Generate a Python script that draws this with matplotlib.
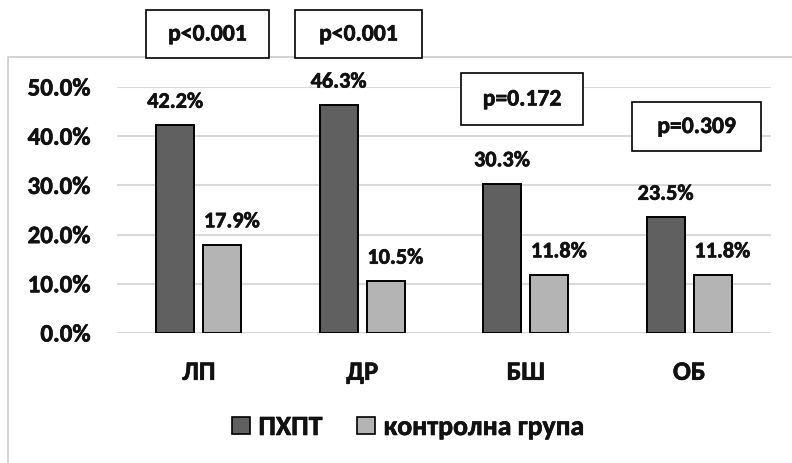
import matplotlib
matplotlib.use("Agg")
import matplotlib.pyplot as plt
import matplotlib.patheffects as pe
from matplotlib.patches import Rectangle, Patch
from matplotlib.lines import Line2D
from matplotlib.ticker import PercentFormatter
import numpy as np

# data
categories = ["ЛП", "ДР", "БШ", "ОБ"]
series_names = ["ПХПТ", "контролна група"]
phpt = [42.2, 46.3, 30.3, 23.5]
control = [17.9, 10.5, 11.8, 11.8]
p_values = ["p<0.001", "p<0.001", "p=0.172", "p=0.309"]
y_ticks = [0, 10, 20, 30, 40, 50]

plt.rcParams["font.family"] = ["Carlito", "DejaVu Sans"]
plt.rcParams["font.weight"] = "bold"
plt.rcParams["text.color"] = "#111111"

# slightly heavier glyph strokes
heavy = [pe.withStroke(linewidth=0.45, foreground="#111111")]

W, H = 792, 464
fig = plt.figure(figsize=(W / 100, H / 100), dpi=100)

def px(x0, y0):
    return x0 / W, 1 - y0 / H

# outer chart frame (runs off the right and bottom edges)
fig.add_artist(Line2D([8 / W, 8 / W, 1.0], [0.0, 1 - 58 / H, 1 - 58 / H],
                      transform=fig.transFigure, color="#d0d0d0", lw=1.3))

left, right, top, bottom = 117, 771, 88, 334
ax = fig.add_axes([left / W, 1 - bottom / H, (right - left) / W, (bottom - top) / H])

x = np.arange(len(categories))
bw = 0.232
off = 0.144
dark, light = "#606060", "#b4b4b4"
ax.bar(x - off, phpt, bw, color=dark, edgecolor="black", linewidth=1.4, zorder=3)
ax.bar(x + off, control, bw, color=light, edgecolor="black", linewidth=1.4, zorder=3)

ax.set_xlim(-0.5, len(categories) - 0.5)
ax.set_ylim(0, 50)
ax.set_yticks(y_ticks)
ax.yaxis.set_major_formatter(PercentFormatter(decimals=1))
ax.grid(axis="y", color="#d9d9d9", lw=1.5, zorder=0)
for s in ax.spines.values():
    s.set_visible(False)
ax.tick_params(axis="y", length=0, pad=19, labelsize=18, labelcolor="#111111")
ax.set_xticks(x)
ax.set_xticklabels(categories)
ax.tick_params(axis="x", length=0, pad=20, labelsize=19, labelcolor="#111111")
for t in ax.get_xticklabels() + ax.get_yticklabels():
    t.set_path_effects(heavy)

# value labels above bars
for i in range(len(categories)):
    ax.annotate(f"{phpt[i]:.1f}%", (x[i] - off, phpt[i]), xytext=(0, 17),
                textcoords="offset points", ha="center", va="center",
                fontsize=16, fontweight="bold", annotation_clip=False,
                path_effects=heavy)
    ax.annotate(f"{control[i]:.1f}%", (x[i] + off, control[i]), xytext=(7, 17),
                textcoords="offset points", ha="center", va="center",
                fontsize=16, fontweight="bold", annotation_clip=False,
                path_effects=heavy)

# p-value boxes
boxes = [(146, 11, 269, 59), (295, 11, 422, 59), (461, 74, 583, 126), (632, 103, 761, 152)]
for (x0, y0, x1, y1), label in zip(boxes, p_values):
    fx0, fy1 = px(x0, y1)
    fig.add_artist(Rectangle((fx0, fy1), (x1 - x0) / W, (y1 - y0) / H,
                             transform=fig.transFigure, facecolor="white",
                             edgecolor="black", lw=1.2, zorder=5))
    cx, cy = px((x0 + x1) / 2, (y0 + y1) / 2)
    fig.text(cx, cy, label, ha="center", va="center", fontsize=17,
             fontweight="bold", zorder=6, path_effects=heavy)

# legend
handles = [Patch(facecolor=dark, edgecolor="black", lw=1.2),
           Patch(facecolor=light, edgecolor="black", lw=1.2)]
lx, ly = px(408, 428)
leg = fig.legend(handles, series_names, loc="center", bbox_to_anchor=(lx, ly), ncol=2,
                 frameon=False, handlelength=0.65, handleheight=0.58,
                 handletextpad=0.3, columnspacing=1.25,
                 prop={"weight": "bold", "size": 20})
for t in leg.get_texts():
    t.set_path_effects(heavy)

fig.savefig("out.png", dpi=100)
